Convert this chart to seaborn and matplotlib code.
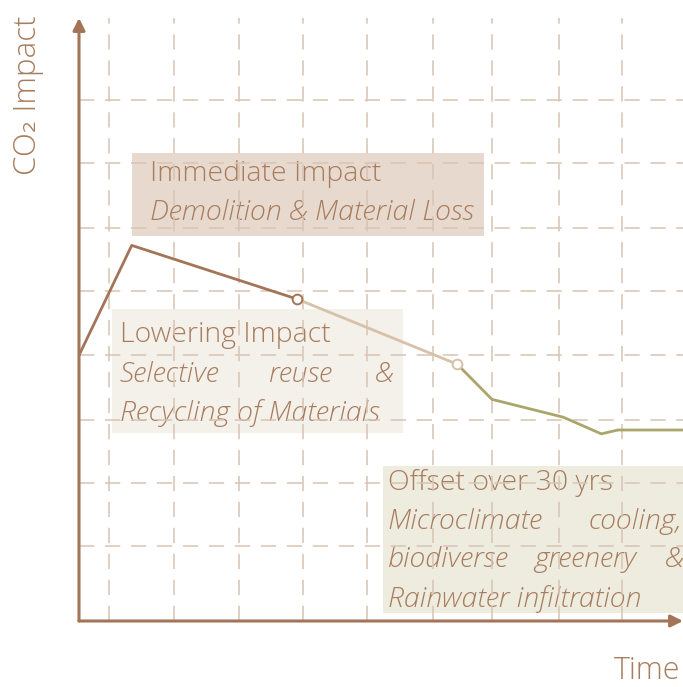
import matplotlib
matplotlib.use("Agg")
import matplotlib.pyplot as plt
from matplotlib.patches import Rectangle
import seaborn as sns
import pandas as pd

# grid positions (time units / impact units)
grid_x = [0.47, 1.48, 2.49, 3.48, 4.48, 5.5, 6.42, 7.46, 8.44]
grid_y = [1.17, 2.16, 3.15, 4.16, 5.16, 6.16, 7.17, 8.16]

# CO2 curve, split into three phases
immediate_t = [0.0, 0.82, 3.39]
immediate_v = [4.16, 5.88, 5.04]
lowering_t = [3.39, 5.88]
lowering_v = [5.04, 4.02]
offset_t = [5.88, 6.42, 7.53, 8.12, 8.38, 9.39]
offset_v = [4.02, 3.47, 3.19, 2.93, 2.99, 2.99]

XMAX, YMAX = 9.39, 9.44

brown = "#a47458"
tan = "#d5c2a9"
olive = "#aaa66b"
gridc = "#d8c4b4"
textc = "#a87d5f"

sns.set_theme(style="white")
plt.rcParams['font.family'] = ['Open Sans', 'DejaVu Sans']

fig = plt.figure(figsize=(6.83, 6.87), dpi=100)
ax = fig.add_axes([79/683, 66/687, 604/683, 603/687])

# boxes (behind grid)
boxes = [
    (0.83, 6.03, 5.46, 1.30, "#e7d9cd"),
    (0.51, 2.95, 4.53, 1.94, "#f4f0ea"),
    (4.73, 0.13, 4.70, 2.30, "#eeecdf"),
]
for x0, y0, w, h, c in boxes:
    ax.add_patch(Rectangle((x0, y0), w, h, facecolor=c, edgecolor='none', zorder=1))

fs = 20.5
kw = dict(fontsize=fs, color=textc, fontweight='light', va='center', zorder=2)
ikw = dict(kw, style='italic')
# box texts
ax.text(1.11, 6.99, "Immediate Impact", **kw)
ax.text(1.11, 6.39, "Demolition & Material Loss", **ikw)

ax.text(0.63, 4.47, "Lowering Impact", **kw)
ax.text(0.63, 3.86, "Selective", **ikw)
ax.text(3.45, 3.86, "reuse", ha='center', **ikw)
ax.text(4.89, 3.86, "&", ha='right', **ikw)
ax.text(0.63, 3.26, "Recycling of Materials", **ikw)

ax.text(4.8, 2.16, "Offset over 30 yrs", **kw)
ax.text(4.8, 1.56, "Microclimate", **ikw)
ax.text(9.38, 1.56, "cooling,", ha='right', **ikw)
ax.text(4.8, 0.96, "biodiverse", **ikw)
ax.text(7.87, 0.96, "greenery", ha='center', **ikw)
ax.text(9.39, 0.96, "&", ha='right', **ikw)
ax.text(4.8, 0.35, "Rainwater infiltration", **ikw)

# dashed grid on top of boxes and text
ax.vlines(grid_x, 0, YMAX, colors=gridc, linewidth=1.1, linestyles=(0, (10, 7)), zorder=3)
ax.hlines(grid_y, 0, XMAX, colors=gridc, linewidth=1.1, linestyles=(0, (10, 7)), zorder=3)

# curve
seg1 = pd.DataFrame({"t": immediate_t, "v": immediate_v})
seg2 = pd.DataFrame({"t": lowering_t, "v": lowering_v})
seg3 = pd.DataFrame({"t": offset_t, "v": offset_v})
sns.lineplot(data=seg1, x="t", y="v", ax=ax, color=brown, linewidth=2.0, sort=False, zorder=4)
sns.lineplot(data=seg2, x="t", y="v", ax=ax, color=tan, linewidth=2.0, sort=False, zorder=4)
sns.lineplot(data=seg3, x="t", y="v", ax=ax, color=olive, linewidth=2.0, sort=False, zorder=4)
ax.plot([immediate_t[-1]], [immediate_v[-1]], 'o', ms=7, mfc='white', mec=brown, mew=1.4, zorder=5)
ax.plot([lowering_t[-1]], [lowering_v[-1]], 'o', ms=7, mfc='white', mec=tan, mew=1.4, zorder=5)
ax.set_xlim(0, XMAX)
ax.set_ylim(0, YMAX)
ax.axis('off')

# axes arrows
arrow = dict(arrowstyle='-|>', color=brown, lw=2.2, mutation_scale=18, shrinkA=0, shrinkB=0)
ax.annotate("", xy=(0, 1.0), xytext=(0, 0), xycoords='axes fraction', arrowprops=arrow, zorder=6)
ax.annotate("", xy=(1.0, 0), xytext=(0, 0), xycoords='axes fraction', arrowprops=arrow, zorder=6)

fig.text(28/683, 1 - 95/687, "CO₂ Impact", rotation=90, fontsize=22.5, color=textc,
         fontweight='light', ha='center', va='center')
fig.text(680/683, 1 - 671/687, "Time", fontsize=22, color=textc, fontweight='light',
         ha='right', va='center')

fig.savefig("out.png", dpi=100)
